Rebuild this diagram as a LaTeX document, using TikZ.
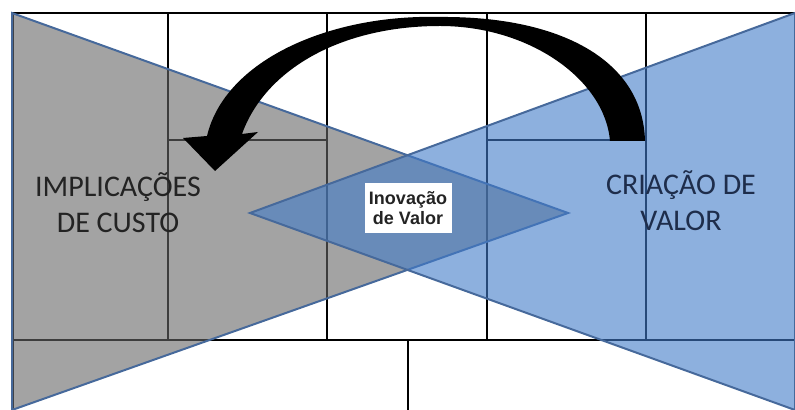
\documentclass[tikz,border=0pt]{standalone}
\usepackage{fontspec}
\newfontfamily\calibrifont{Carlito}
\newfontfamily\arialfont{Liberation Sans}
\usepackage{xcolor}
\usepackage{tikz}

\definecolor{costgray}{RGB}{102,102,102}
\definecolor{valueblue}{RGB}{65,123,200}
\definecolor{edgeblue}{RGB}{70,105,155}
\definecolor{labelgray}{RGB}{35,35,35}
\definecolor{labelnavy}{RGB}{30,45,75}

\begin{document}
\begin{tikzpicture}[x=0.5pt,y=-0.5pt,
  gridline/.style={line width=1pt,black},
  wedge/.style={draw=edgeblue,line width=1pt,fill opacity=0.6},
  biglabel/.style={align=center,inner sep=0pt,anchor=base,
    font=\calibrifont\fontsize{15}{18}\selectfont}]
\useasboundingbox (0,0) rectangle (795,410);
% frame and grid
\draw[gridline] (12,13) -- (795,13);
\draw[gridline,line width=1.5pt] (12,13) -- (12,410);
\foreach \x in {168,327,487,646}
  \draw[gridline] (\x,13) -- (\x,340);
\draw[gridline] (12,340) -- (795,340);
\draw[gridline] (168,140) -- (327,140) (487,140) -- (646,140);
\draw[gridline] (408,340) -- (408,410);
% the two wedges, their overlap is the diamond
\draw[wedge,fill=costgray] (12,13) -- (568,213) -- (12,410) -- cycle;
\draw[wedge,fill=valueblue] (795,13) -- (250,213) -- (795,410) -- cycle;
% curved arrow
\fill[black] (645,141) .. controls (643,60) and (560,16) .. (440,17)
  .. controls (330,14) and (225,60) .. (207,136)
  -- (183,138) -- (215,171) -- (258,132) -- (242,134)
  .. controls (265,70) and (340,26) .. (440,26)
  .. controls (530,26) and (605,80) .. (610,141) -- cycle;
% labels
\node[biglabel,text=labelgray] (cost) at (118,233) {IMPLICAÇÕES\\DE CUSTO};
\node[biglabel,text=labelnavy] (value) at (681,231) {CRIAÇÃO DE\\VALOR};
\node[fill=white,text=labelgray,align=center,inner sep=0pt,
  minimum width=43.5pt,minimum height=25pt,
  font=\arialfont\bfseries\fontsize{9}{10}\selectfont]
  (innovation) at (408,208) {Inovação\\de Valor};
\end{tikzpicture}
\end{document}
